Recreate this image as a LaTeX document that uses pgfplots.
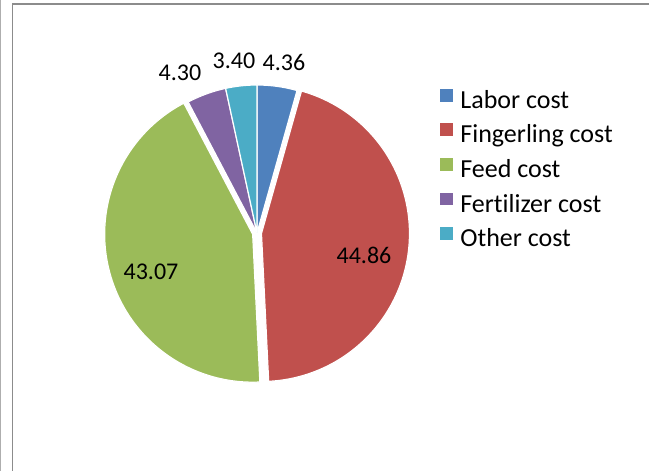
\documentclass[border=0pt]{standalone}
\usepackage{pgfplots}
\pgfplotsset{compat=1.18}
\usepackage{pgfplotstable}
\usepackage{fontspec}
\setmainfont{Carlito}[Ligatures=NoCommon]
\definecolor{cLabor}{HTML}{4F81BD}
\definecolor{cFing}{HTML}{C0504D}
\definecolor{cFeed}{HTML}{9BBB59}
\definecolor{cFert}{HTML}{8064A2}
\definecolor{cOther}{HTML}{4BACC6}
\definecolor{frame}{HTML}{8C8C8C}
\pgfplotstableread{
label value
Labor 4.36
Fingerling 44.86
Feed 43.07
Fertilizer 4.30
Other 3.40
}\costs
\begin{document}
\begin{tikzpicture}
\useasboundingbox (0,0) rectangle (649pt,471pt);
\draw[frame!70, line width=1pt] (0.5pt,0) -- (0.5pt,471pt);
\draw[frame, line width=1.6pt] (12.5pt,0) -- (12.5pt,466.8pt) -- (649pt,466.8pt);
\pgfplotstablegetelem{0}{value}\of\costs \pgfmathsetmacro\vA{\pgfplotsretval}
\pgfplotstablegetelem{1}{value}\of\costs \pgfmathsetmacro\vB{\pgfplotsretval}
\pgfplotstablegetelem{2}{value}\of\costs \pgfmathsetmacro\vC{\pgfplotsretval}
\pgfplotstablegetelem{3}{value}\of\costs \pgfmathsetmacro\vD{\pgfplotsretval}
\pgfplotstablegetelem{4}{value}\of\costs \pgfmathsetmacro\vE{\pgfplotsretval}
\pgfmathsetmacro\tot{\vA+\vB+\vC+\vD+\vE}
\pgfmathsetmacro\aA{90}
\pgfmathsetmacro\aB{\aA-360*\vA/\tot}
\pgfmathsetmacro\aC{\aB-360*\vB/\tot}
\pgfmathsetmacro\aD{\aC-360*\vC/\tot}
\pgfmathsetmacro\aE{\aD-360*\vD/\tot}
\pgfmathsetmacro\aF{\aE-360*\vE/\tot}
\def\cx{257}\def\cy{238}\def\R{148}\def\ex{4.5}
\pgfmathsetmacro\bx{\cx+\ex*cos((\aB+\aC)/2)}
\pgfmathsetmacro\by{\cy+\ex*sin((\aB+\aC)/2)}
\pgfmathsetmacro\fx{\cx+\ex*cos((\aC+\aD)/2)}
\pgfmathsetmacro\fy{\cy+\ex*sin((\aC+\aD)/2)}
\begin{axis}[
  at={(0pt,0pt)}, anchor=origin,
  x=1pt, y=1pt, xmin=0, xmax=649, ymin=0, ymax=471,
  scale only axis, hide axis, clip=false, enlargelimits=false,
  legend style={at={(axis cs:439,383.5)}, anchor=north west, draw=none, fill=none,
    font=\fontsize{26}{30}\selectfont, row sep=9pt, inner sep=0pt,
    nodes={inner xsep=6pt, inner ysep=0pt, text height=17pt, text depth=5pt}},
  legend cell align=left,
  legend image code/.code={\fill[#1] (0pt,0pt) rectangle (14pt,14pt);},
]
\addplot[fill=cLabor, draw=white, line width=1.2pt, domain=\aB:\aA, samples=30, variable=\t]
  ({\cx+\R*cos(\t)},{\cy+\R*sin(\t)}) -- (axis cs:\cx,\cy) -- cycle;
\addlegendentry{Labor cost}
\addplot[fill=cFing, draw=white, line width=1.2pt, domain=\aC:\aB, samples=120, variable=\t]
  ({\bx+\R*cos(\t)},{\by+\R*sin(\t)}) -- (axis cs:\bx,\by) -- cycle;
\addlegendentry{Fingerling cost}
\addplot[fill=cFeed, draw=white, line width=1.2pt, domain=\aD:\aC, samples=120, variable=\t]
  ({\fx+\R*cos(\t)},{\fy+\R*sin(\t)}) -- (axis cs:\fx,\fy) -- cycle;
\addlegendentry{Feed cost}
\addplot[fill=cFert, draw=white, line width=1.2pt, domain=\aE:\aD, samples=30, variable=\t]
  ({\cx+\R*cos(\t)},{\cy+\R*sin(\t)}) -- (axis cs:\cx,\cy) -- cycle;
\addlegendentry{Fertilizer cost}
\addplot[fill=cOther, draw=white, line width=1.2pt, domain=\aF:\aE, samples=30, variable=\t]
  ({\cx+\R*cos(\t)},{\cy+\R*sin(\t)}) -- (axis cs:\cx,\cy) -- cycle;
\addlegendentry{Other cost}
\node[font=\fontsize{24}{28}\selectfont] at (axis cs:284,409) {4.36};
\node[font=\fontsize{24}{28}\selectfont] at (axis cs:234,410) {3.40};
\node[font=\fontsize{24}{28}\selectfont] at (axis cs:180,398) {4.30};
\node[font=\fontsize{24}{28}\selectfont] at (axis cs:364,216) {44.86};
\node[font=\fontsize{24}{28}\selectfont] at (axis cs:151,199) {43.07};
\end{axis}
\end{tikzpicture}
\end{document}
